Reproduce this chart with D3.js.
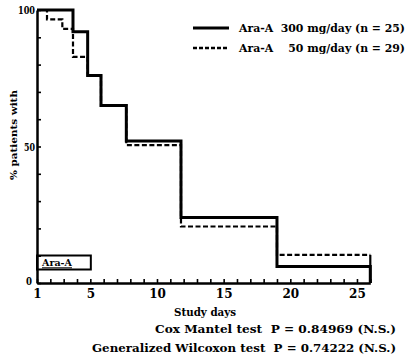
<!DOCTYPE html>
<html><head><meta charset="utf-8">
<script src="https://cdn.jsdelivr.net/npm/d3@7"></script>
<style>
body{margin:0;background:#fff;}
text{font-family:"DejaVu Serif","Liberation Serif",serif;font-weight:bold;fill:#000;white-space:pre;}
</style></head>
<body><svg id="c" width="406" height="362"></svg>
<script>
// Data
const solidDays  = [1, 3.7, 4.8, 5.8, 7.7, 11.8, 19, 26];
const solidPct   = [100, 92, 76, 65, 52, 24, 6, 0];
const dashedDays = [1, 1.75, 2.9, 3.7, 4.8, 5.8, 7.7, 11.8, 19, 26];
const dashedPct  = [100, 96.6, 93.1, 82.8, 76, 65, 50.5, 20.7, 10.3, 0];
const xTickLabels = [1, 5, 10, 15, 20, 25];
const yTickLabels = [0, 50, 100];
const legendLabels = ["Ara-A  300 mg/day (n = 25)", "Ara-A    50 mg/day (n = 29)"];
const testLabels = ["Cox Mantel test  P = 0.84969 (N.S.)", "Generalized Wilcoxon test  P = 0.74222 (N.S.)"];

const svg = d3.select("#c");
const x = d3.scaleLinear().domain([1, 26]).range([37, 370.3]);
const y = d3.scaleLinear().domain([0, 100]).range([283, 10]);

// curves
const step = d3.line().x(d => x(d[0])).y(d => y(d[1])).curve(d3.curveStepAfter);
const solid = solidDays.map((d, i) => [d, solidPct[i]]);
const dashed = dashedDays.map((d, i) => [d, dashedPct[i]]);
function withEnd(arr){ // vertical drop at the last day
  const last = arr[arr.length-1], prev = arr[arr.length-2];
  return arr.slice(0, -1).concat([[last[0], prev[1]], last]);
}
svg.append("path").attr("d", step(withEnd(dashed).slice(0,-1)))
  .attr("fill","none").attr("stroke","#000").attr("stroke-width",2.2).attr("stroke-dasharray","5,2.5");
svg.append("line").attr("x1",x(26)).attr("x2",x(26)).attr("y1",y(dashedPct[dashedPct.length-2])).attr("y2",y(0))
  .attr("stroke","#000").attr("stroke-width",2.2);
svg.append("path").attr("d", step(withEnd(solid)))
  .attr("fill","none").attr("stroke","#000").attr("stroke-width",3).attr("stroke-linejoin","miter");

// axes
const xAxis = d3.axisBottom(x).tickValues(d3.range(1, 27)).tickSize(-4).tickSizeOuter(0)
  .tickFormat(d => xTickLabels.includes(d) ? d : "");
const gx = svg.append("g").attr("transform", `translate(0,${y(0)})`).call(xAxis);
gx.select(".domain").attr("stroke-width", 2.5);
gx.selectAll(".tick line").attr("stroke-width", 1.6);
gx.selectAll(".tick text").attr("y", 6).attr("font-size", 12).attr("font-family", "DejaVu Serif").attr("font-weight","bold");

const yAxis = d3.axisLeft(y).tickValues(d3.range(0, 101, 10)).tickSize(-4).tickSizeOuter(0)
  .tickFormat(d => yTickLabels.includes(d) ? d : "");
const gy = svg.append("g").attr("transform", `translate(${x(1)},0)`).call(yAxis);
gy.select(".domain").attr("stroke-width", 2.5);
gy.selectAll(".tick line").attr("stroke-width", 1.6);
gy.selectAll(".tick text").attr("x", d => d === 0 ? -5 : -2).attr("dy", d => d === 0 ? "0.1em" : "0.32em")
  .attr("font-size", 11).attr("font-family", "DejaVu Serif").attr("font-weight","bold")
  .attr("textLength", d => d === 100 ? 17 : (d === 50 ? 11 : 6)).attr("lengthAdjust","spacingAndGlyphs");

// y label
svg.append("text").attr("transform", "translate(13,135) rotate(-90)").attr("text-anchor","middle")
  .attr("font-size", 10).attr("dy","0.35em").attr("textLength", 90).attr("lengthAdjust","spacingAndGlyphs")
  .text("% patients with");

// x label
svg.append("text").attr("x", 205).attr("y", 316).attr("text-anchor","middle").attr("font-size", 11)
  .attr("textLength", 62).attr("lengthAdjust","spacingAndGlyphs").text("Study days");

// tests
svg.append("text").attr("x", 396).attr("y", 333).attr("text-anchor","end").attr("font-size", 11)
  .attr("textLength", 241).attr("lengthAdjust","spacingAndGlyphs").text(testLabels[0]);
svg.append("text").attr("x", 396).attr("y", 352).attr("text-anchor","end").attr("font-size", 11)
  .attr("textLength", 304).attr("lengthAdjust","spacingAndGlyphs").text(testLabels[1]);

// legend
const lg = svg.append("g");
[0,1].forEach(i => {
  const ly = 28 + i*20;
  lg.append("line").attr("x1",193).attr("x2",229).attr("y1",ly).attr("y2",ly)
    .attr("stroke","#000").attr("stroke-width", i===0?3:2.4).attr("stroke-dasharray", i===0?null:"4,2");
  lg.append("text").attr("x",239).attr("y",ly).attr("dy","0.35em").attr("font-size",11)
    .attr("textLength",166).attr("lengthAdjust","spacingAndGlyphs").text(legendLabels[i]);
});

// Ara-A treatment bar
svg.append("rect").attr("x", x(1)).attr("y", 255.5).attr("width", x(5) - x(1) + 0.5).attr("height", 14)
  .attr("fill","none").attr("stroke","#000").attr("stroke-width",2);
svg.append("text").attr("x", x(1)+5).attr("y", 263).attr("dy","0.35em").attr("font-size",9.5)
  .attr("textLength",30).attr("lengthAdjust","spacingAndGlyphs").attr("text-decoration","underline").text("Ara-A");
</script></body></html>
